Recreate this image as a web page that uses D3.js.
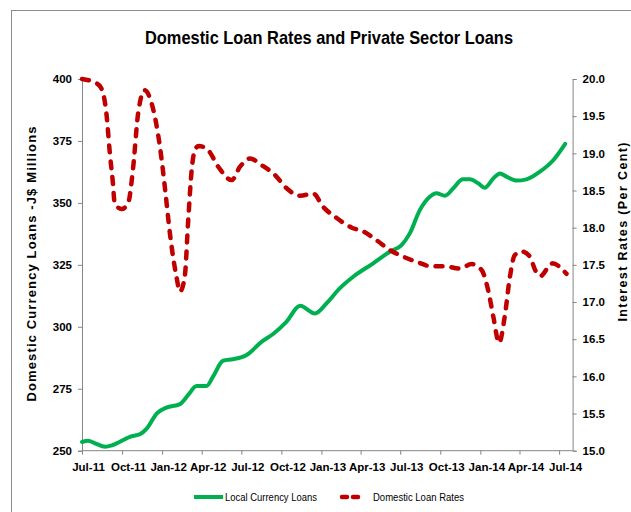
<!DOCTYPE html>
<html><head><meta charset="utf-8">
<script src="https://cdn.jsdelivr.net/npm/d3@7"></script>
<style>
html,body{margin:0;padding:0;background:#fff;}
svg{display:block;}
</style></head>
<body>
<svg id="chart" width="631" height="512"></svg>
<script>
const chartTitle = "Domestic Loan Rates and Private Sector Loans";
const leftAxisTitle = "Domestic Currency Loans -J$ Millions";
const rightAxisTitle = "Interest Rates (Per Cent)";
const seriesNames = ["Local Currency Loans", "Domestic Loan Rates"];

const leftTicks = [250, 275, 300, 325, 350, 375, 400];
const rightTicks = [15.0, 15.5, 16.0, 16.5, 17.0, 17.5, 18.0, 18.5, 19.0, 19.5, 20.0];

const loanDates = ["2011-07-01","2011-07-15","2011-07-31","2011-08-23","2011-09-10","2011-10-19","2011-11-12","2011-11-27","2011-12-20","2012-01-11","2012-02-11","2012-03-01","2012-03-20","2012-04-12","2012-04-27","2012-05-20","2012-06-12","2012-07-13","2012-08-17","2012-09-12","2012-10-13","2012-11-13","2012-12-17","2013-01-13","2013-02-12","2013-03-15","2013-04-30","2013-06-07","2013-07-04","2013-07-23","2013-08-15","2013-09-07","2013-09-22","2013-10-12","2013-10-31","2013-11-22","2013-12-08","2013-12-27","2014-01-11","2014-01-31","2014-02-15","2014-03-02","2014-03-25","2014-04-17","2014-05-18","2014-06-18","2014-07-15"];
const loanValues = [253.5,254.0,253.0,251.6,252.3,255.6,256.7,259.0,265.1,267.4,268.8,272.5,276.1,276.1,279.9,286.3,286.9,288.6,294.0,297.1,302.1,308.5,305.4,309.5,315.5,320.2,325.6,330.3,333.0,337.7,347.1,352.5,353.9,352.9,355.9,359.5,359.5,357.9,356.1,359.9,361.9,360.6,359.0,359.5,362.6,367.3,373.8];

const rateDates = ["2011-07-01","2011-08-04","2011-08-14","2011-08-26","2011-09-03","2011-09-10","2011-09-14","2011-09-30","2011-10-15","2011-10-26","2011-11-07","2011-11-22","2011-12-08","2011-12-27","2012-01-08","2012-01-19","2012-02-03","2012-02-11","2012-02-22","2012-03-01","2012-03-09","2012-03-16","2012-03-25","2012-04-16","2012-05-09","2012-06-09","2012-06-28","2012-07-21","2012-08-17","2012-09-16","2012-10-13","2012-11-13","2012-12-13","2013-01-05","2013-02-05","2013-03-12","2013-04-07","2013-05-08","2013-06-07","2013-07-08","2013-08-08","2013-09-11","2013-10-12","2013-11-15","2013-12-12","2014-01-04","2014-01-19","2014-01-31","2014-02-13","2014-02-26","2014-03-10","2014-03-21","2014-04-06","2014-04-25","2014-05-07","2014-05-19","2014-06-15","2014-07-18"];
const rateValues = [20.00,19.94,19.88,19.54,19.00,18.60,18.33,18.25,18.33,18.78,19.54,19.85,19.67,19.09,18.51,17.92,17.34,17.14,17.34,18.10,18.78,19.04,19.10,19.04,18.82,18.64,18.82,18.93,18.84,18.71,18.53,18.43,18.46,18.28,18.13,18.00,17.95,17.83,17.70,17.61,17.54,17.48,17.48,17.45,17.51,17.43,17.16,16.80,16.45,16.80,17.34,17.63,17.68,17.61,17.43,17.35,17.52,17.38];

const parse = d3.timeParse("%Y-%m-%d");
const loans = loanDates.map((d,i)=>({date:parse(d), v:loanValues[i]}));
const rates = rateDates.map((d,i)=>({date:parse(d), v:rateValues[i]}));

const svg = d3.select("#chart");
const L = 82, R = 572.6, T = 79, B = 450.7;
const axisColor = "#868686";

// frame
svg.append("line").attr("x1",11).attr("x2",640).attr("y1",10.5).attr("y2",10.5).attr("stroke","#8c8c8c").attr("stroke-width",1);
svg.append("line").attr("x1",11.5).attr("x2",11.5).attr("y1",10).attr("y2",520).attr("stroke","#8c8c8c").attr("stroke-width",1);

const x = d3.scaleTime().domain([parse("2011-07-01"), parse("2014-08-01")]).range([L, R]);
const yL = d3.scaleLinear().domain([250, 400]).range([B, T]);
const yR = d3.scaleLinear().domain([15, 20]).range([B, T]);

// title
svg.append("text").attr("x",329).attr("y",44).attr("text-anchor","middle")
  .attr("font-family","'Liberation Sans', Arial, sans-serif").attr("font-weight","bold").attr("font-size",19)
  .attr("textLength",368).attr("lengthAdjust","spacingAndGlyphs").attr("fill","#000").text(chartTitle);

// left axis
const gL = svg.append("g").attr("transform",`translate(${L},0)`)
  .call(d3.axisLeft(yL).tickValues(leftTicks).tickSize(4).tickPadding(6).tickFormat(d3.format("d")));
gL.select(".domain").attr("stroke",axisColor);
gL.selectAll(".tick line").attr("stroke",axisColor);
gL.selectAll(".tick text").attr("font-family","'Liberation Sans', Arial, sans-serif").attr("font-weight","bold").attr("font-size",11.5).attr("fill","#000");

// right axis
const gR = svg.append("g").attr("transform",`translate(${R},0)`)
  .call(d3.axisRight(yR).tickValues(rightTicks).tickSize(4).tickPadding(6).tickFormat(d3.format(".1f")));
gR.select(".domain").attr("stroke",axisColor);
gR.selectAll(".tick line").attr("stroke",axisColor);
gR.selectAll(".tick text").attr("font-family","'Liberation Sans', Arial, sans-serif").attr("font-weight","bold").attr("font-size",11.5).attr("fill","#000");

// bottom axis
const gB = svg.append("g").attr("transform",`translate(0,${B})`)
  .call(d3.axisBottom(x).ticks(d3.timeMonth.every(3)).tickSize(4).tickPadding(8).tickFormat(d3.timeFormat("%b-%y")));
gB.select(".domain").attr("stroke",axisColor).attr("d",`M${L},0H${R}`);
gB.selectAll(".tick line").attr("stroke",axisColor);
gB.selectAll(".tick text").attr("dx",6).attr("font-family","'Liberation Sans Narrow', 'Liberation Sans', Arial, sans-serif").attr("font-weight","bold").attr("font-size",11.5).attr("fill","#000");

// axis titles
svg.append("text").attr("transform","translate(36,264) rotate(-90)").attr("text-anchor","middle")
  .attr("font-family","'Liberation Sans', Arial, sans-serif").attr("font-weight","bold").attr("font-size",13)
  .attr("textLength",275).attr("lengthAdjust","spacing").text(leftAxisTitle);
svg.append("text").attr("transform","translate(627,232) rotate(-90)").attr("text-anchor","middle")
  .attr("font-family","'Liberation Sans', Arial, sans-serif").attr("font-weight","bold").attr("font-size",12.5)
  .attr("textLength",179).attr("lengthAdjust","spacing").text(rightAxisTitle);

// lines
const lineL = d3.line().x(d=>x(d.date)).y(d=>yL(d.v)).curve(d3.curveMonotoneX);
const lineR = d3.line().x(d=>x(d.date)).y(d=>yR(d.v)).curve(d3.curveMonotoneX);
const green = "#00B050", red = "#C00000";

svg.append("path").datum(loans).attr("d",lineL).attr("fill","none").attr("stroke",green).attr("stroke-width",4).attr("stroke-linejoin","round").attr("stroke-linecap","round");
svg.append("path").datum(rates).attr("d",lineR).attr("fill","none").attr("stroke",red).attr("stroke-width",4.5).attr("stroke-dasharray","7,9").attr("stroke-linejoin","round").attr("stroke-linecap","round");

// legend
const lg = svg.append("g");
lg.append("line").attr("x1",194).attr("x2",223).attr("y1",497).attr("y2",497).attr("stroke",green).attr("stroke-width",4);
lg.append("text").attr("x",225).attr("y",501).attr("font-family","'Liberation Sans', Arial, sans-serif").attr("font-size",11.5)
  .attr("textLength",92).attr("lengthAdjust","spacingAndGlyphs").attr("fill","#000").text(seriesNames[0]);
lg.append("line").attr("x1",342).attr("x2",362).attr("y1",497).attr("y2",497).attr("stroke",red).attr("stroke-width",4.5)
  .attr("stroke-dasharray","5,6").attr("stroke-linecap","round");
lg.append("text").attr("x",373).attr("y",501).attr("font-family","'Liberation Sans', Arial, sans-serif").attr("font-size",11.5)
  .attr("textLength",91).attr("lengthAdjust","spacingAndGlyphs").attr("fill","#000").text(seriesNames[1]);
</script>
</body></html>
